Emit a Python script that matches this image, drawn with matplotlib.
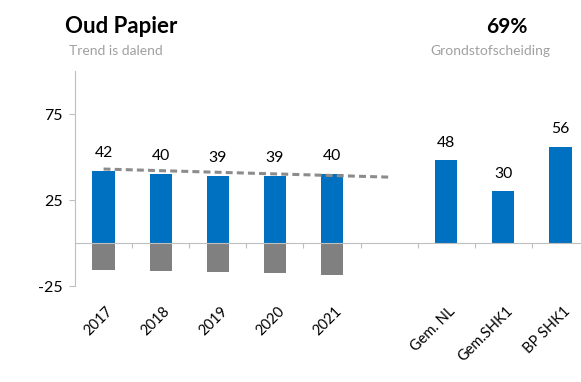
import matplotlib
matplotlib.use("Agg")
import matplotlib.pyplot as plt

plt.rcParams['font.family'] = ['Lato', 'DejaVu Sans']
plt.rcParams['lines.scale_dashes'] = False
plt.rcParams['axes.unicode_minus'] = False

# ---- data ----
categories = ["2017", "2018", "2019", "2020", "2021", "", "Gem. NL", "Gem.SHK1", "BP SHK1"]
positive_values = [42, 40, 39, 39, 40, None, 48, 30, 56]
negative_values = [-15.5, -16, -17, -17.5, -18.5, None, None, None, None]
trend_x = [0, 5]
trend_y = [43, 38.3]
y_ticks = [-25, 25, 75]
title = "Oud Papier"
subtitle = "Trend is dalend"
kpi = "69%"
kpi_label = "Grondstofscheiding"

W, H = 581, 382
fig = plt.figure(figsize=(W / 100, H / 100), dpi=100)

blue = "#0070C0"
grey_bar = "#808080"
axis_grey = "#BFBFBF"

pos = [75 / W, 1 - 286 / H, 506 / W, 215 / H]
ax = fig.add_axes(pos)

xs = list(range(len(categories)))
bw = 0.39
for x, v in zip(xs, positive_values):
    if v is None:
        continue
    ax.bar(x, v, width=bw, color=blue, zorder=2)
    ax.annotate(f"{v}", (x, v), xytext=(0, 10), textcoords="offset points",
                ha="center", va="baseline", fontsize=11.3, color="#000000")
for x, v in zip(xs, negative_values):
    if v is None:
        continue
    ax.bar(x, v, width=bw, color=grey_bar, zorder=2)

ax.plot(trend_x, trend_y, color="#8C8C8C", lw=2.2, dashes=(5, 3), zorder=3)

ax.set_xlim(-0.5, 8.36)
ax.set_ylim(-25, 100)
ax.set_yticks(y_ticks)
ax.tick_params(axis="y", direction="out", length=4.5, width=0.8, color=axis_grey,
               pad=4.5, labelsize=11.5)
ax.spines["top"].set_visible(False)
ax.spines["right"].set_visible(False)
ax.spines["left"].set_color(axis_grey)
ax.spines["bottom"].set_color(axis_grey)
ax.spines["bottom"].set_position(("data", 0))
ax.spines["bottom"].set_zorder(4)
ax.set_xticks([i + 0.5 for i in range(8)])
ax.set_xticklabels([])
ax.tick_params(axis="x", direction="out", length=3.6, width=0.8, color=axis_grey)

# category labels below the plot area, under each bar
lab = fig.add_axes(pos, frameon=False)
lab.set_xlim(-0.5 - 0.04, 8.36 - 0.04)
lab.set_ylim(0, 1)
lab.set_yticks([])
lab.set_xticks(xs)
lab.set_xticklabels(categories, rotation=45, ha="right", va="top",
                    rotation_mode="anchor", fontsize=10.5)
lab.tick_params(axis="x", length=0, pad=13)
lab.patch.set_visible(False)

fig.text(65 / W, 1 - 33 / H, title, fontsize=16, fontweight="bold", va="baseline", ha="left")
fig.text(69 / W, 1 - 55 / H, subtitle, fontsize=10, color="#A0A0A0", va="baseline", ha="left")
fig.text(507 / W, 1 - 33 / H, kpi, fontsize=15, fontweight="bold", va="baseline", ha="center")
fig.text(490 / W, 1 - 55 / H, kpi_label, fontsize=10, color="#A0A0A0", va="baseline", ha="center")

fig.savefig("out.png", dpi=100)
